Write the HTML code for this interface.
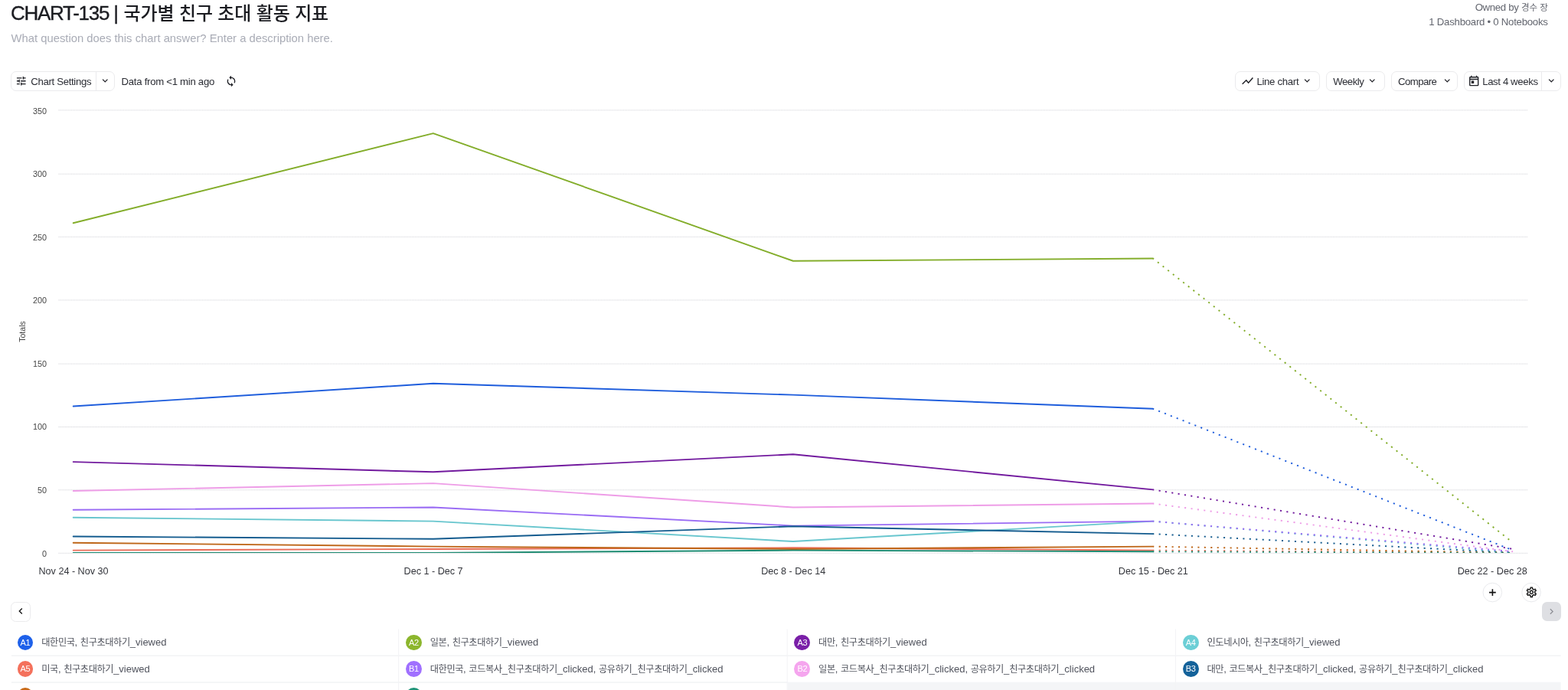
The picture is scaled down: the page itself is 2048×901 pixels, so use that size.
<!DOCTYPE html>
<html lang="ko"><head><meta charset="utf-8"><title>CHART-135 | 국가별 친구 초대 활동 지표</title>
<style>
html,body{margin:0;padding:0;background:#fff;}
body{width:2048px;height:901px;overflow:hidden;position:relative;font-family:'Liberation Sans','Noto Sans CJK KR',sans-serif;-webkit-font-smoothing:antialiased;}
.btn{position:absolute;box-sizing:border-box;border:1px solid #ebebed;border-radius:7px;background:#fff;}
.dv{position:absolute;width:1px;background:#eaeaed;}
.ic{position:absolute;}
header,nav,main,section{display:block;margin:0;padding:0;}
.dot{position:absolute;width:20.9px;height:20.9px;border-radius:50%;color:#fff;font-size:11px;line-height:21.4px;text-align:center;letter-spacing:-0.35px;}
.lt{position:absolute;font-size:12.23px;line-height:16px;color:#50535d;white-space:nowrap;letter-spacing:-0.42px;}
.lt .l{font-size:13px;letter-spacing:0;}
</style></head><body>

<header>
<h1 style="margin:0;font-weight:400;font-size:26px">
<span style="position:absolute;top:4.29px;font-size:26px;line-height:26px;color:#1b1c21;white-space:nowrap;letter-spacing:-1.3px;left:14.10px;-webkit-text-stroke:0.35px #1b1c21;">CHART-135</span>
<span style="position:absolute;top:4.29px;font-size:26px;line-height:26px;color:#1b1c21;white-space:nowrap;left:148.30px;-webkit-text-stroke:0.35px #1b1c21;">|</span>
<span style="position:absolute;top:5.68px;font-size:24px;line-height:24px;color:#1b1c21;white-space:nowrap;letter-spacing:-0.14px;font-weight:500;left:161.60px;">국가별 친구 초대 활동 지표</span>
</h1>
<div style="position:absolute;top:42.67px;font-size:14.8px;line-height:14.8px;color:#a9acb6;white-space:nowrap;left:14.60px;">What question does this chart answer? Enter a description here.</div>
<div style="position:absolute;top:2.63px;font-size:13.2px;line-height:13.2px;color:#63666f;white-space:nowrap;letter-spacing:-0.3px;right:26.10px;">Owned by <span style="font-size:11.5px;letter-spacing:0">경수 장</span></div>
<div style="position:absolute;top:22.33px;font-size:13.2px;line-height:13.2px;color:#63666f;white-space:nowrap;letter-spacing:-0.25px;right:26.40px;">1 Dashboard • 0 Notebooks</div>
</header>
<nav>
<div class="btn" style="left:14.3px;top:93.2px;width:135.6px;height:25.6px;"></div>
<div class="dv" style="left:124.5px;top:94px;height:24px;"></div>
<svg class="ic" style="left:19.85px;top:98.25px" width="15.5" height="15.5" viewBox="0 0 24 24"><path fill="#1f2026" d="M3 17v2h6v-2H3zM3 5v2h10V5H3zm10 16v-2h8v-2h-8v-2h-2v6h2zM7 9v2H3v2h4v2h2V9H7zm14 4v-2H11v2h10zm-6-4h2V7h4V5h-4V3h-2v6z"/></svg>
<div style="position:absolute;top:99.83px;font-size:13.2px;line-height:13.2px;color:#2b2d34;white-space:nowrap;letter-spacing:-0.33px;left:40.30px;">Chart Settings</div>
<svg class="ic" style="left:130.15px;top:98.35px" width="14.5" height="14.5" viewBox="0 0 24 24"><path fill="#1f2026" d="M16.59 8.59L12 13.17 7.41 8.59 6 10l6 6 6-6z"/></svg>
<div style="position:absolute;top:99.83px;font-size:13.2px;line-height:13.2px;color:#2b2d34;white-space:nowrap;letter-spacing:-0.29px;left:158.60px;">Data from &lt;1 min ago</div>
<svg class="ic" style="left:294.00px;top:97.80px" width="16" height="16" viewBox="0 0 24 24"><path fill="#1f2026" d="M12 4V1L8 5l4 4V6c3.31 0 6 2.69 6 6 0 1.01-.25 1.97-.7 2.8l1.46 1.46C19.54 15.03 20 13.57 20 12c0-4.42-3.58-8-8-8zm0 14c-3.31 0-6-2.69-6-6 0-1.01.25-1.97.7-2.8L5.24 7.74C4.46 8.97 4 10.43 4 12c0 4.42 3.58 8 8 8v3l4-4-4-4v3z"/></svg>
<div class="btn" style="left:1612.8px;top:93.2px;width:110.9px;height:25.6px;"></div>
<svg class="ic" style="left:1618px;top:96px" width="24" height="20" viewBox="1618 96 24 20" fill="none"><path d="M1623.2 109.3L1627.75 104.8L1630.6 108.2L1635.9 102.1" stroke="#1f2026" stroke-width="1.5" stroke-linecap="square" stroke-linejoin="miter"/></svg>
<div style="position:absolute;top:99.83px;font-size:13.2px;line-height:13.2px;color:#2b2d34;white-space:nowrap;letter-spacing:-0.3px;left:1641.40px;">Line chart</div>
<svg class="ic" style="left:1700.45px;top:98.35px" width="14.5" height="14.5" viewBox="0 0 24 24"><path fill="#1f2026" d="M16.59 8.59L12 13.17 7.41 8.59 6 10l6 6 6-6z"/></svg>
<div class="btn" style="left:1731.8px;top:93.2px;width:77px;height:25.6px;"></div>
<div style="position:absolute;top:99.83px;font-size:13.2px;line-height:13.2px;color:#2b2d34;white-space:nowrap;letter-spacing:-0.5px;left:1741.30px;">Weekly</div>
<svg class="ic" style="left:1785.15px;top:98.35px" width="14.5" height="14.5" viewBox="0 0 24 24"><path fill="#1f2026" d="M16.59 8.59L12 13.17 7.41 8.59 6 10l6 6 6-6z"/></svg>
<div class="btn" style="left:1816.8px;top:93.2px;width:87.2px;height:25.6px;"></div>
<div style="position:absolute;top:99.83px;font-size:13.2px;line-height:13.2px;color:#2b2d34;white-space:nowrap;letter-spacing:-0.55px;left:1826.00px;">Compare</div>
<svg class="ic" style="left:1882.95px;top:98.35px" width="14.5" height="14.5" viewBox="0 0 24 24"><path fill="#1f2026" d="M16.59 8.59L12 13.17 7.41 8.59 6 10l6 6 6-6z"/></svg>
<div class="btn" style="left:1911.5px;top:93.2px;width:127.6px;height:25.6px;"></div>
<div class="dv" style="left:2013.2px;top:94px;height:24px;"></div>
<svg class="ic" style="left:1916.70px;top:97.80px" width="16.4" height="16.4" viewBox="0 0 24 24"><path fill="#1f2026" d="M19 3h-1V1h-2v2H8V1H6v2H5c-1.11 0-2 .9-2 2v14c0 1.1.89 2 2 2h14c1.1 0 2-.9 2-2V5c0-1.1-.9-2-2-2zm0 16H5V9h14v10zM5 7V5h14v2H5zm2 4h5v5H7z"/></svg>
<div style="position:absolute;top:99.83px;font-size:13.2px;line-height:13.2px;color:#2b2d34;white-space:nowrap;letter-spacing:-0.38px;left:1936.20px;">Last 4 weeks</div>
<svg class="ic" style="left:2018.95px;top:98.35px" width="14.5" height="14.5" viewBox="0 0 24 24"><path fill="#1f2026" d="M16.59 8.59L12 13.17 7.41 8.59 6 10l6 6 6-6z"/></svg>
</nav>
<main>
<section>
<svg style="position:absolute;left:0;top:0" width="2048" height="780" viewBox="0 0 2048 780" fill="none">
<line x1="76.5" y1="722.30" x2="1995.2" y2="722.30" stroke="#cdced4" stroke-width="1" stroke-dasharray="1.03 1.03"/>
<line x1="76.5" y1="639.80" x2="1995.2" y2="639.80" stroke="#cdced4" stroke-width="1" stroke-dasharray="1.03 1.03"/>
<line x1="76.5" y1="557.50" x2="1995.2" y2="557.50" stroke="#cdced4" stroke-width="1" stroke-dasharray="1.03 1.03"/>
<line x1="76.5" y1="475.10" x2="1995.2" y2="475.10" stroke="#cdced4" stroke-width="1" stroke-dasharray="1.03 1.03"/>
<line x1="76.5" y1="391.90" x2="1995.2" y2="391.90" stroke="#cdced4" stroke-width="1" stroke-dasharray="1.03 1.03"/>
<line x1="76.5" y1="309.30" x2="1995.2" y2="309.30" stroke="#cdced4" stroke-width="1" stroke-dasharray="1.03 1.03"/>
<line x1="76.5" y1="227.20" x2="1995.2" y2="227.20" stroke="#cdced4" stroke-width="1" stroke-dasharray="1.03 1.03"/>
<line x1="76.5" y1="143.90" x2="1995.2" y2="143.90" stroke="#cdced4" stroke-width="1" stroke-dasharray="1.03 1.03"/>
<clipPath id="plot"><rect x="60" y="130" width="1960" height="592.1"/></clipPath><g clip-path="url(#plot)">
<polyline points="95.7,530.50 565.8,500.80 1035.9,515.65 1506.0,533.80" stroke="#1E5DDC" stroke-width="1.9" stroke-linejoin="round" stroke-linecap="round"/>
<line x1="1506.0" y1="533.80" x2="1976.1" y2="718.60" stroke="#1E5DDC" stroke-width="1.9" stroke-dasharray="2.1 6.35" stroke-dashoffset="-7.65"/>
<polyline points="95.7,291.25 565.8,174.10 1035.9,340.75 1506.0,337.45" stroke="#83AD2A" stroke-width="1.9" stroke-linejoin="round" stroke-linecap="round"/>
<line x1="1506.0" y1="337.45" x2="1976.1" y2="708.70" stroke="#83AD2A" stroke-width="1.9" stroke-dasharray="2.1 6.35" stroke-dashoffset="-7.65"/>
<polyline points="95.7,603.10 565.8,616.30 1035.9,593.20 1506.0,639.40" stroke="#721A9E" stroke-width="1.9" stroke-linejoin="round" stroke-linecap="round"/>
<line x1="1506.0" y1="639.40" x2="1976.1" y2="716.95" stroke="#721A9E" stroke-width="1.9" stroke-dasharray="2.1 6.35" stroke-dashoffset="-7.65"/>
<polyline points="95.7,675.70 565.8,680.65 1035.9,707.05 1506.0,680.65" stroke="#68C6CE" stroke-width="1.9" stroke-linejoin="round" stroke-linecap="round"/>
<line x1="1506.0" y1="680.65" x2="1976.1" y2="721.90" stroke="#68C6CE" stroke-width="1.9" stroke-dasharray="2.1 6.35" stroke-dashoffset="-7.65"/>
<polyline points="95.7,718.60 565.8,716.95 1035.9,715.30 1506.0,718.60" stroke="#EA6D58" stroke-width="1.9" stroke-linejoin="round" stroke-linecap="round"/>
<line x1="1506.0" y1="718.60" x2="1976.1" y2="721.90" stroke="#EA6D58" stroke-width="1.9" stroke-dasharray="2.1 6.35" stroke-dashoffset="-7.65"/>
<polyline points="95.7,665.80 565.8,662.50 1035.9,686.59 1506.0,680.65" stroke="#9A6CF4" stroke-width="1.9" stroke-linejoin="round" stroke-linecap="round"/>
<line x1="1506.0" y1="680.65" x2="1976.1" y2="720.25" stroke="#9A6CF4" stroke-width="1.9" stroke-dasharray="2.1 6.35" stroke-dashoffset="-7.65"/>
<polyline points="95.7,641.05 565.8,631.15 1035.9,662.50 1506.0,657.55" stroke="#EE9DE7" stroke-width="1.9" stroke-linejoin="round" stroke-linecap="round"/>
<line x1="1506.0" y1="657.55" x2="1976.1" y2="720.25" stroke="#EE9DE7" stroke-width="1.9" stroke-dasharray="2.1 6.35" stroke-dashoffset="-7.65"/>
<polyline points="95.7,700.45 565.8,703.75 1035.9,687.25 1506.0,697.15" stroke="#135B8E" stroke-width="1.9" stroke-linejoin="round" stroke-linecap="round"/>
<line x1="1506.0" y1="697.15" x2="1976.1" y2="721.90" stroke="#135B8E" stroke-width="1.9" stroke-dasharray="2.1 6.35" stroke-dashoffset="-7.65"/>
<polyline points="95.7,708.70 565.8,713.65 1035.9,716.95 1506.0,713.65" stroke="#BE6618" stroke-width="1.9" stroke-linejoin="round" stroke-linecap="round"/>
<line x1="1506.0" y1="713.65" x2="1976.1" y2="721.90" stroke="#BE6618" stroke-width="1.9" stroke-dasharray="2.1 6.35" stroke-dashoffset="-7.65"/>
<polyline points="95.7,721.90 565.8,721.90 1035.9,718.60 1506.0,720.25" stroke="#1D8B71" stroke-width="1.9" stroke-linejoin="round" stroke-linecap="round"/>
<line x1="1506.0" y1="720.25" x2="1976.1" y2="721.90" stroke="#1D8B71" stroke-width="1.9" stroke-dasharray="2.1 6.35" stroke-dashoffset="-7.65"/>
</g></svg>
<div style="position:absolute;top:717.76px;font-size:10.8px;line-height:10.8px;color:#444444;white-space:nowrap;right:1987.00px;">0</div>
<div style="position:absolute;top:635.26px;font-size:10.8px;line-height:10.8px;color:#444444;white-space:nowrap;right:1987.00px;">50</div>
<div style="position:absolute;top:551.96px;font-size:10.8px;line-height:10.8px;color:#444444;white-space:nowrap;right:1987.00px;">100</div>
<div style="position:absolute;top:469.56px;font-size:10.8px;line-height:10.8px;color:#444444;white-space:nowrap;right:1987.00px;">150</div>
<div style="position:absolute;top:387.36px;font-size:10.8px;line-height:10.8px;color:#444444;white-space:nowrap;right:1987.00px;">200</div>
<div style="position:absolute;top:304.76px;font-size:10.8px;line-height:10.8px;color:#444444;white-space:nowrap;right:1987.00px;">250</div>
<div style="position:absolute;top:221.66px;font-size:10.8px;line-height:10.8px;color:#444444;white-space:nowrap;right:1987.00px;">300</div>
<div style="position:absolute;top:140.36px;font-size:10.8px;line-height:10.8px;color:#444444;white-space:nowrap;right:1987.00px;">350</div>
<div style="position:absolute;left:-20.80px;top:427.20px;width:100px;height:12px;line-height:12px;font-size:10.5px;color:#444444;text-align:center;transform:rotate(-90deg);">Totals</div>
<div style="position:absolute;top:740.33px;font-size:12.6px;line-height:12.6px;color:#33353b;white-space:nowrap;left:-104.00px;width:400px;text-align:center;">Nov 24 - Nov 30</div>
<div style="position:absolute;top:740.33px;font-size:12.6px;line-height:12.6px;color:#33353b;white-space:nowrap;left:366.10px;width:400px;text-align:center;">Dec 1 - Dec 7</div>
<div style="position:absolute;top:740.33px;font-size:12.6px;line-height:12.6px;color:#33353b;white-space:nowrap;left:836.20px;width:400px;text-align:center;">Dec 8 - Dec 14</div>
<div style="position:absolute;top:740.33px;font-size:12.6px;line-height:12.6px;color:#33353b;white-space:nowrap;left:1306.30px;width:400px;text-align:center;">Dec 15 - Dec 21</div>
<div style="position:absolute;top:740.33px;font-size:12.6px;line-height:12.6px;color:#33353b;white-space:nowrap;right:53.30px;">Dec 22 - Dec 28</div>
<svg class="ic" style="left:1930px;top:755px" width="90" height="40" viewBox="1930 755 90 40" fill="none"><circle cx="1949.3" cy="773.55" r="12.3" fill="#fff" stroke="#e9eaed"/><circle cx="2000.05" cy="773.55" r="12.3" fill="#fff" stroke="#e9eaed"/><path d="M1949.4 769.3v8.7M1945.05 773.65h8.7" stroke="#111" stroke-width="1.6"/></svg>
<svg class="ic" style="left:1991.70px;top:765.30px" width="16.6" height="16.6" viewBox="0 0 24 24"><path fill="#111" d="M19.43 12.98c.04-.32.07-.64.07-.98 0-.34-.03-.66-.07-.98l2.11-1.65c.19-.15.24-.42.12-.64l-2-3.46c-.09-.16-.26-.25-.44-.25-.06 0-.12.01-.17.03l-2.49 1c-.52-.4-1.08-.73-1.69-.98l-.38-2.65C14.46 2.18 14.25 2 14 2h-4c-.25 0-.46.18-.49.42l-.38 2.65c-.61.25-1.17.59-1.69.98l-2.49-1c-.06-.02-.12-.03-.18-.03-.17 0-.34.09-.43.25l-2 3.46c-.13.22-.07.49.12.64l2.11 1.65c-.04.32-.07.65-.07.98 0 .33.03.66.07.98l-2.11 1.65c-.19.15-.24.42-.12.64l2 3.46c.09.16.26.25.44.25.06 0 .12-.01.17-.03l2.49-1c.52.4 1.08.73 1.69.98l.38 2.65c.03.24.24.42.49.42h4c.25 0 .46-.18.49-.42l.38-2.65c.61-.25 1.17-.59 1.69-.98l2.49 1c.06.02.12.03.18.03.17 0 .34-.09.43-.25l2-3.46c.12-.22.07-.49-.12-.64l-2.11-1.65zm-1.98-1.71c.04.31.05.52.05.73 0 .21-.02.43-.05.73l-.14 1.13.89.7 1.08.84-.7 1.21-1.27-.51-1.04-.42-.9.68c-.43.32-.84.56-1.25.73l-1.06.43-.16 1.13-.2 1.35h-1.4l-.19-1.35-.16-1.13-1.06-.43c-.43-.18-.83-.41-1.23-.71l-.91-.7-1.06.43-1.27.51-.7-1.21 1.08-.84.89-.7-.14-1.13c-.03-.31-.05-.54-.05-.74s.02-.43.05-.73l.14-1.13-.89-.7-1.08-.84.7-1.21 1.27.51 1.04.42.9-.68c.43-.32.84-.56 1.25-.73l1.06-.43.16-1.13.2-1.35h1.39l.19 1.35.16 1.13 1.06.43c.43.18.83.41 1.23.71l.91.7 1.06-.43 1.27-.51.7 1.21-1.07.85-.89.7.14 1.13zM12 8c-2.21 0-4 1.79-4 4s1.79 4 4 4 4-1.79 4-4-1.79-4-4-4zm0 6c-1.1 0-2-.9-2-2s.9-2 2-2 2 .9 2 2-.9 2-2 2z"/></svg>
<div class="btn" style="left:14.3px;top:786px;width:25.6px;height:25.6px;border-radius:6.5px;"></div>
<svg class="ic" style="left:19.00px;top:790.40px" width="16" height="16" viewBox="0 0 24 24"><path fill="#111" d="M15.41 7.41L14 6l-6 6 6 6 1.41-1.41L10.83 12z"/></svg>
<div style="position:absolute;left:2014px;top:786px;width:24.6px;height:25px;border-radius:6.5px;background:#dedfe3;"></div>
<svg class="ic" style="left:2019.10px;top:790.90px" width="15" height="15" viewBox="0 0 24 24"><path fill="#8f9096" d="M10 6L8.59 7.41 13.17 12l-4.58 4.59L10 18l6-6z"/></svg>
</section>
<section>
<svg style="position:absolute;left:0;top:815px" width="2048" height="86" viewBox="0 815 2048 86" fill="none">
<rect x="1028.7" y="890.7" width="1009.9" height="11" fill="#f4f5f7"/>
<line x1="14.8" y1="856.15" x2="2038.6" y2="856.15" stroke="#ecedf0" stroke-width="1"/>
<line x1="14.8" y1="891.06" x2="1028.7" y2="891.06" stroke="#ecedf0" stroke-width="1"/>
<line x1="520.6" y1="821.5" x2="520.6" y2="901" stroke="#f2f3f5" stroke-width="1"/>
<line x1="1028.2" y1="821.5" x2="1028.2" y2="901" stroke="#f2f3f5" stroke-width="1"/>
<line x1="1535.4" y1="821.5" x2="1535.4" y2="901" stroke="#f2f3f5" stroke-width="1"/>
</svg>
<div class="dot" style="background:#1E61EA;left:22.55px;top:828.60px">A1</div><div class="lt" style="left:54.30px;top:830.75px">대한민국<span class="l">, </span>친구초대하기<span class="l">_viewed</span></div>
<div class="dot" style="background:#8CB62D;left:530.05px;top:828.60px">A2</div><div class="lt" style="left:561.80px;top:830.75px">일본<span class="l">, </span>친구초대하기<span class="l">_viewed</span></div>
<div class="dot" style="background:#7A1FA8;left:1037.35px;top:828.60px">A3</div><div class="lt" style="left:1069.10px;top:830.75px">대만<span class="l">, </span>친구초대하기<span class="l">_viewed</span></div>
<div class="dot" style="background:#6CCFD6;left:1544.75px;top:828.60px">A4</div><div class="lt" style="left:1576.50px;top:830.75px">인도네시아<span class="l">, </span>친구초대하기<span class="l">_viewed</span></div>
<div class="dot" style="background:#F4715C;left:22.55px;top:862.95px">A5</div><div class="lt" style="left:54.30px;top:866.10px">미국<span class="l">, </span>친구초대하기<span class="l">_viewed</span></div>
<div class="dot" style="background:#A070FF;left:530.05px;top:862.95px">B1</div><div class="lt" style="left:561.80px;top:866.10px">대한민국<span class="l">, </span>코드복사<span class="l">_</span>친구초대하기<span class="l">_clicked, </span>공유하기<span class="l">_</span>친구초대하기<span class="l">_clicked</span></div>
<div class="dot" style="background:#F5A5EE;left:1037.35px;top:862.95px">B2</div><div class="lt" style="left:1069.10px;top:866.10px">일본<span class="l">, </span>코드복사<span class="l">_</span>친구초대하기<span class="l">_clicked, </span>공유하기<span class="l">_</span>친구초대하기<span class="l">_clicked</span></div>
<div class="dot" style="background:#14629A;left:1544.75px;top:862.95px">B3</div><div class="lt" style="left:1576.50px;top:866.10px">대만<span class="l">, </span>코드복사<span class="l">_</span>친구초대하기<span class="l">_clicked, </span>공유하기<span class="l">_</span>친구초대하기<span class="l">_clicked</span></div>
<div class="dot" style="background:#C96A17;left:22.55px;top:897.85px">B4</div><div class="lt" style="left:54.30px;top:901.00px">인도네시아<span class="l">, </span>코드복사<span class="l">_</span>친구초대하기<span class="l">_clicked, </span>공유하기<span class="l">_</span>친구초대하기<span class="l">_clicked</span></div>
<div class="dot" style="background:#1F9478;left:530.05px;top:897.85px">B5</div><div class="lt" style="left:561.80px;top:901.00px">미국<span class="l">, </span>코드복사<span class="l">_</span>친구초대하기<span class="l">_clicked, </span>공유하기<span class="l">_</span>친구초대하기<span class="l">_clicked</span></div>
</section>
</main>
</body></html>
